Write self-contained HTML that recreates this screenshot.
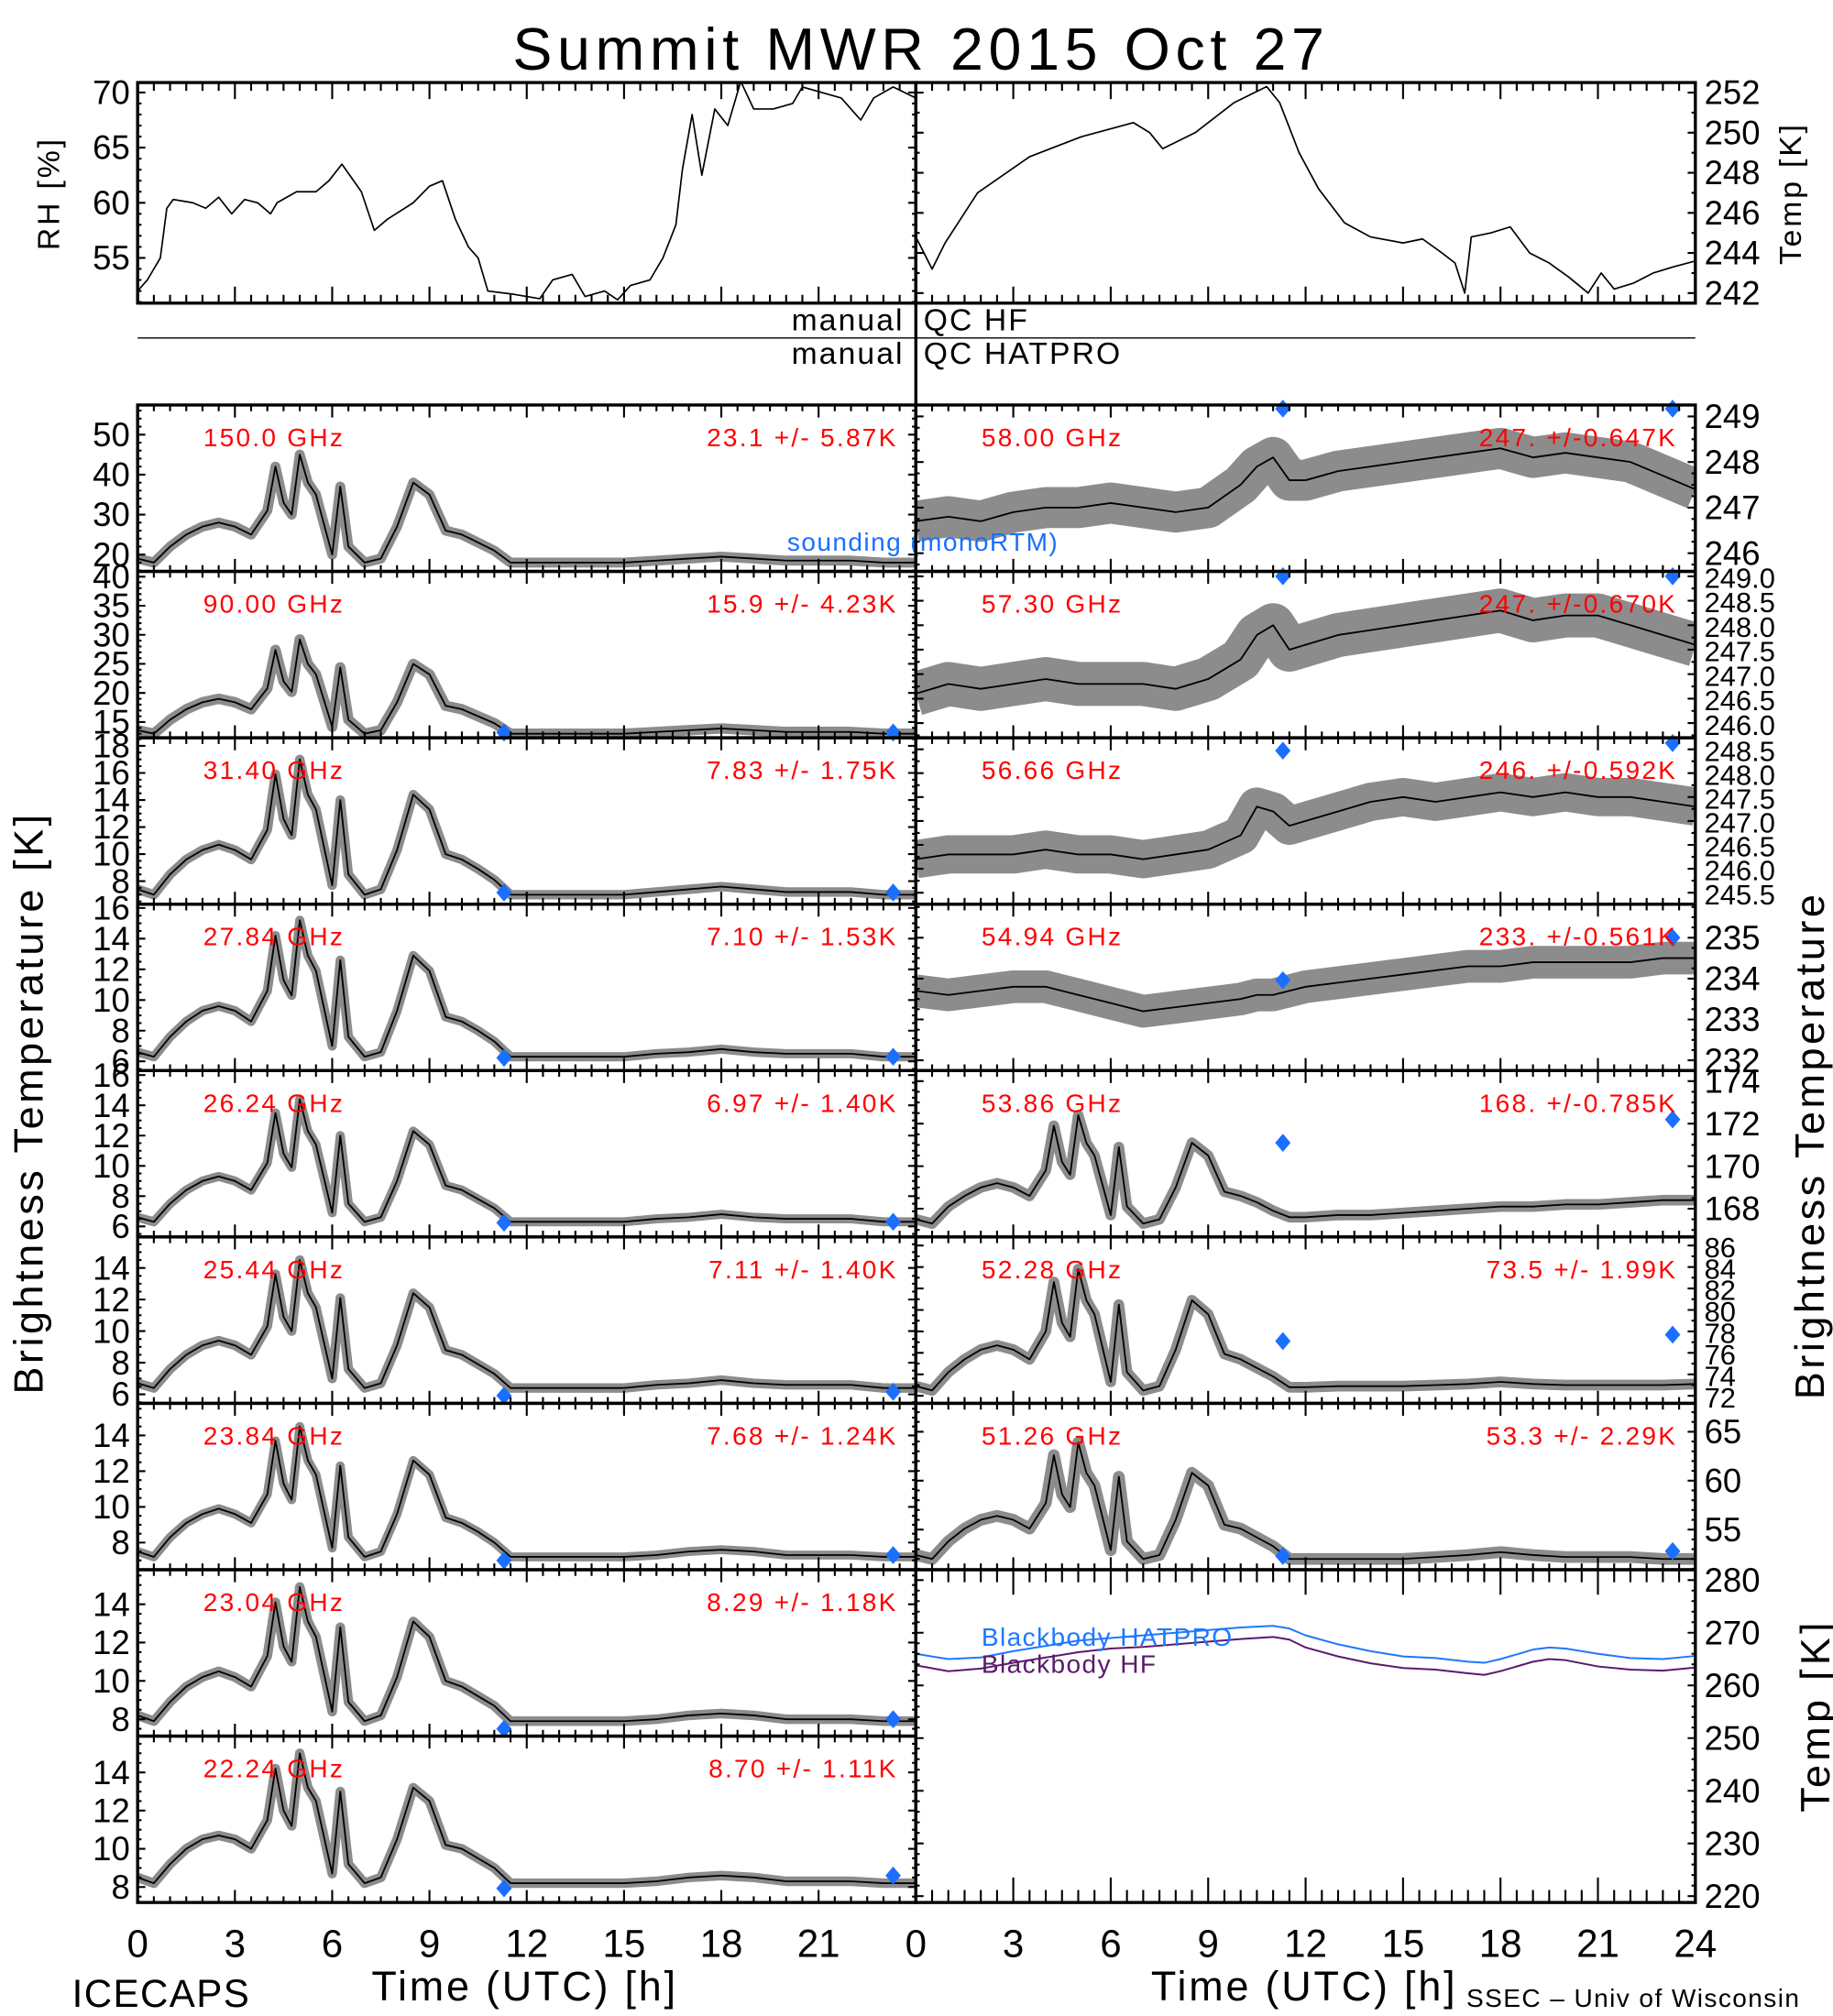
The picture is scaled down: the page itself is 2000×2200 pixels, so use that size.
<!DOCTYPE html>
<html><head><meta charset="utf-8"><title>Summit MWR 2015 Oct 27</title>
<style>
html,body{margin:0;padding:0;background:#fff;}
svg{display:block;font-family:"Liberation Sans",sans-serif;}
</style></head>
<body>
<svg id="chart" xmlns="http://www.w3.org/2000/svg" width="2000" height="2200" viewBox="0 0 1425 1563" preserveAspectRatio="none"></svg>
<script>
// ---------------- DATA ----------------
const T_WV = [0,0.5,1,1.5,2,2.5,3,3.5,4,4.25,4.5,4.75,5,5.25,5.5,6,6.25,6.5,7,7.5,8,8.5,9,9.5,10,10.5,11,11.5,12,13,14,15,16,17,18,19,20,21,22,23,24];
const TB_150 = [19,18,22,25,27,28,27,25,31,42,33,30,45,38,35,20,37,22,18,19,27,38,35,26,25,23,21,18,18,18,18,18,18.5,19,19.5,19,18.5,18.5,18.5,18,18];
const TB_90 = [13.6,13,15.4,17.2,18.4,19,18.4,17.2,20.8,27.4,22,20.2,29.2,25,23.2,14.2,24.4,15.4,13,13.6,18.4,25,23.2,17.8,17.2,16,14.8,13,13,13,13,13,13.3,13.6,13.9,13.6,13.3,13.3,13.3,13,13];
const TB_3140 = [7.4,7,8.5,9.6,10.3,10.7,10.3,9.6,11.8,15.9,12.6,11.4,17,14.4,13.3,7.7,14,8.5,7,7.4,10.3,14.4,13.3,10,9.6,8.9,8.1,7,7,7,7,7,7.2,7.4,7.6,7.4,7.2,7.2,7.2,7,7];
const TB_2784 = [6.6,6.3,7.6,8.6,9.3,9.6,9.3,8.6,10.6,14.2,11.3,10.3,15.2,12.9,11.9,7,12.6,7.6,6.3,6.6,9.3,12.9,11.9,8.9,8.6,8,7.3,6.3,6.3,6.3,6.3,6.3,6.5,6.6,6.8,6.6,6.5,6.5,6.5,6.3,6.3];
const TB_2624 = [6.6,6.3,7.5,8.4,9,9.3,9,8.4,10.2,13.5,10.8,9.9,14.4,12.3,11.4,6.9,12,7.5,6.3,6.6,9,12.3,11.4,8.7,8.4,7.8,7.2,6.3,6.3,6.3,6.3,6.3,6.5,6.6,6.8,6.6,6.5,6.5,6.5,6.3,6.3];
const TB_2544 = [6.7,6.4,7.6,8.5,9.1,9.4,9.1,8.5,10.3,13.6,10.9,10,14.5,12.4,11.5,7,12.1,7.6,6.4,6.7,9.1,12.4,11.5,8.8,8.5,7.9,7.3,6.4,6.4,6.4,6.4,6.4,6.6,6.7,6.9,6.7,6.6,6.6,6.6,6.4,6.4];
const TB_2384 = [7.5,7.2,8.3,9.1,9.6,9.9,9.6,9.1,10.7,13.7,11.3,10.4,14.5,12.6,11.8,7.7,12.3,8.3,7.2,7.5,9.6,12.6,11.8,9.4,9.1,8.6,8,7.2,7.2,7.2,7.2,7.2,7.3,7.5,7.6,7.5,7.3,7.3,7.3,7.2,7.2];
const TB_2304 = [8.2,7.9,8.9,9.7,10.2,10.5,10.2,9.7,11.3,14.1,11.8,11,14.9,13.1,12.3,8.4,12.8,8.9,7.9,8.2,10.2,13.1,12.3,10,9.7,9.2,8.7,7.9,7.9,7.9,7.9,7.9,8,8.2,8.3,8.2,8,8,8,7.9,7.9];
const TB_2224 = [8.5,8.2,9.2,10,10.5,10.7,10.5,10,11.5,14.2,12,11.2,15,13.2,12.5,8.7,13,9.2,8.2,8.5,10.5,13.2,12.5,10.2,10,9.5,9,8.2,8.2,8.2,8.2,8.2,8.3,8.5,8.6,8.5,8.3,8.3,8.3,8.2,8.2];
const TB_5386 = [167.5,167.3,168.1,168.6,169,169.2,169,168.6,169.8,171.9,170.2,169.6,172.4,171.1,170.5,167.7,170.9,168.1,167.3,167.5,169,171.1,170.5,168.8,168.6,168.3,167.9,167.6,167.6,167.7,167.7,167.8,167.9,168,168.1,168.1,168.2,168.2,168.3,168.4,168.4];
const TB_5228 = [72.9,72.5,74.2,75.4,76.3,76.7,76.3,75.4,78,82.6,78.8,77.5,83.8,80.9,79.6,73.3,80.5,74.2,72.5,72.9,76.3,80.9,79.6,75.9,75.4,74.6,73.8,72.8,72.8,72.9,72.9,72.9,73,73.1,73.3,73.1,73,73,73,73,73.1];
const TB_5126 = [52.4,52,53.8,55.1,56,56.4,56,55.1,57.7,62.6,58.6,57.3,63.9,60.8,59.5,52.9,60.4,53.8,52,52.4,56,60.8,59.5,55.5,55.1,54.2,53.3,52,52,52,52,52,52.2,52.4,52.7,52.4,52.2,52.2,52.2,52,52];

const T_O2 = [0,1,2,3,4,5,6,7,8,9,10,10.5,11,11.5,12,13,14,15,16,17,18,19,20,21,22,23,24];
const TB_5800 = [246.7,246.8,246.7,246.9,247,247,247.1,247,246.9,247,247.5,247.9,248.1,247.6,247.6,247.8,247.9,248,248.1,248.2,248.3,248.1,248.2,248.1,248,247.7,247.4];
const TB_5730 = [246.6,246.8,246.7,246.8,246.9,246.8,246.8,246.8,246.7,246.9,247.3,247.8,248,247.5,247.6,247.8,247.9,248,248.1,248.2,248.3,248.1,248.2,248.2,248,247.8,247.6];
const TB_5666 = [246.2,246.3,246.3,246.3,246.4,246.3,246.3,246.2,246.3,246.4,246.7,247.3,247.2,246.9,247,247.2,247.4,247.5,247.4,247.5,247.6,247.5,247.6,247.5,247.5,247.4,247.3];
const TB_5494 = [233.7,233.6,233.7,233.8,233.8,233.6,233.4,233.2,233.3,233.4,233.5,233.6,233.6,233.7,233.8,233.9,234,234.1,234.2,234.3,234.3,234.4,234.4,234.4,234.4,234.5,234.5];

const SND_T = [11.3,23.3];
const SND_90 = [13.2,13.2];
const SND_3140 = [7.16,7.16];
const SND_2784 = [6.23,6.3];
const SND_2624 = [6.24,6.3];
const SND_2544 = [5.92,6.16];
const SND_2384 = [7.0,7.3];
const SND_2304 = [7.5,8.0];
const SND_2224 = [7.93,8.6];
const SND_5800 = [249.17,249.17];
const SND_5730 = [249.0,249.0];
const SND_5666 = [248.47,248.63];
const SND_5494 = [233.96,235.0];
const SND_5386 = [171.1,172.2];
const SND_5228 = [77.1,77.7];
const SND_5126 = [52.3,52.8];

const RH_T = [0,0.3,0.7,0.9,1.1,1.7,2.1,2.5,2.9,3.3,3.7,4.1,4.3,4.9,5.5,5.9,6.3,6.9,7.3,7.7,8.5,9.0,9.4,9.8,10.2,10.5,10.8,11.6,12.4,12.8,13.4,13.8,14.4,14.8,15.2,15.8,16.2,16.6,16.8,17.1,17.4,17.8,18.2,18.6,19,19.6,20.2,20.5,21.1,21.7,22.3,22.7,23.3,24];
const RH_V = [52,53,55,59.5,60.3,60,59.5,60.5,59,60.3,60,59,60,61,61,62,63.5,61,57.5,58.5,60,61.5,62,58.5,56,55,52,51.7,51.3,53,53.5,51.5,52,51.2,52.5,53,55,58,63,68,62.5,68.5,67,71,68.5,68.5,69,70.5,70,69.5,67.5,69.5,70.5,69.5];
const TEMP_T = [0,0.5,0.9,1.9,3.5,5.1,6.7,7.2,7.6,8.6,9.8,10.8,11.2,11.8,12.4,13.2,14.0,15,15.6,16.2,16.6,16.9,17.1,17.7,18.3,18.9,19.5,20.1,20.7,21.1,21.5,22.1,22.7,23.3,24];
const TEMP_V = [244.8,243.2,244.5,247,248.8,249.8,250.5,250,249.2,250,251.5,252.3,251.5,249,247.2,245.5,244.8,244.5,244.7,244,243.5,242,244.8,245,245.3,244,243.5,242.8,242,243,242.2,242.5,243,243.3,243.6];

const BB_T = [0,1,2,3,4,5,6,7,8,9,10,11,11.5,12,13,14,15,16,17,17.5,18,19,19.5,20,21,22,23,24];
const BB_HATPRO = [266,265,265.3,266.5,267.5,268.5,269,269.5,270,270.5,271,271.3,270.8,269.5,267.8,266.5,265.5,265.2,264.5,264.3,265,266.8,267.2,267,266,265.2,265,265.6];
const BB_HF = [263.8,262.7,263.2,264.3,265.3,266.3,267,267.3,267.8,268.3,268.8,269.2,268.7,267.2,265.5,264.2,263.3,263,262.3,262,262.7,264.5,265,264.8,263.6,263,262.8,263.4];

const X_TICKS = [0,3,6,9,12,15,18,21,24];

// ---------------- HELPERS ----------------
const NS='http://www.w3.org/2000/svg';
const svg=document.getElementById('chart');
function el(tag,attrs,parent){const e=document.createElementNS(NS,tag);for(const k in attrs)e.setAttribute(k,attrs[k]);(parent||svg).appendChild(e);return e;}
function txt(parent,x,y,s,size,anchor,color,name,rot,ls){
  const e=el('text',{x:x,y:y,'font-size':size,'text-anchor':anchor,fill:color},parent);
  if(rot)e.setAttribute('transform','rotate('+rot+' '+x+' '+y+')');
  if(ls)e.setAttribute('letter-spacing',ls);
  e.textContent=s;
  
  
  return e;
}
let clipId=0;

function drawPanel(p){
  const g=el('g',{});
  
  
  const xs=t=>p.x+t/24*p.w;
  const ys=v=>p.y+p.h-(v-p.ymin)/(p.ymax-p.ymin)*p.h;
  const pxK=p.h/(p.ymax-p.ymin);
  const cid='c'+(clipId++);
  const cp=el('clipPath',{id:cid},g);
  el('rect',{x:p.x,y:p.y,width:p.w,height:p.h},cp);
  const dg=el('g',{'clip-path':'url(#'+cid+')'},g);
  (p.series||[]).forEach(s=>{
    const pts=s.t.map((t,i)=>xs(t).toFixed(2)+','+ys(s.v[i]).toFixed(2)).join(' ');
    if(s.noise){
      const h=el('polyline',{points:pts,fill:'none',stroke:'#000','stroke-opacity':0.45,'stroke-width':Math.max(2,s.noise*pxK),'stroke-linejoin':'round'},dg);
      
      
    }
    const l=el('polyline',{points:pts,fill:'none',stroke:s.color||'#000','stroke-width':s.width||1.3,'stroke-linejoin':'round'},dg);
    
    
  });
  if(p.snd){
    p.snd.forEach((v,i)=>{
      const cx=xs(SND_T[i]),cy=ys(v);
      const d=el('polygon',{points:`${cx},${cy-7} ${cx+6},${cy} ${cx},${cy+7} ${cx-6},${cy}`,fill:'#1a6fff'},g);
      
      
    });
  }
  const fr=el('rect',{x:p.x,y:p.y,width:p.w,height:p.h,fill:'none',stroke:'#000','stroke-width':2.4},g);
  
  
  const big=p.h*0.075, small=big*0.5;
  let d='';
  for(let t=0;t<=24.001;t+=0.5){
    const x=xs(t), L=(Math.abs(t/3-Math.round(t/3))<1e-6)?big:small;
    d+=`M${x},${p.y+p.h}v${-L}M${x},${p.y}v${L}`;
  }
  const yl=6, ysm=3;
  p.ticks.forEach(v=>{const y=ys(v);if(y>=p.y-0.5&&y<=p.y+p.h+0.5)d+=`M${p.x},${y}h${yl}M${p.x+p.w},${y}h${-yl}`;});
  if(p.minor){
    for(let v=Math.ceil(p.ymin/p.minor)*p.minor;v<=p.ymax;v+=p.minor){const y=ys(v);d+=`M${p.x},${y}h${ysm}M${p.x+p.w},${y}h${-ysm}`;}
  }
  const tk=el('path',{d:d,stroke:'#000','stroke-width':1.5,fill:'none'},g);
  
  
  p.ticks.forEach((v,i)=>{
    const y=ys(v)+9;
    const s=p.fmt?p.fmt(v):String(v);
    if(p.side==='left')txt(g,p.x-6,y,s,p.fs||26,'end','#000','y-tick-label');
    else txt(g,p.x+p.w+7,y,s,p.fs||26,'start','#000','y-tick-label');
  });
  if(p.label)txt(g,p.x+p.lx,p.y+32,p.label,20,'start','#ff0000','channel-label',null,1.6);
  if(p.stats)txt(g,p.x+p.w-14,p.y+32,p.stats,20,'end','#ff0000','channel-stats',null,1.6);
  return {g,xs,ys};
}

// ---------------- LAYOUT ----------------
const LX=107, RX=712, PW=605, PH=129, Y0=314;

txt(svg,716,54,'Summit  MWR  2015  Oct  27',46,'middle','#000','chart-title',null,4);

drawPanel({name:'rh-panel',x:LX,y:64,w:PW,h:171,ymin:50.9,ymax:70.9,ticks:[55,60,65,70],minor:1,side:'left',
  series:[{name:'rh-line',t:RH_T,v:RH_V,width:1.2}]});
drawPanel({name:'surface-temp-panel',x:RX,y:64,w:606,h:171,ymin:241.5,ymax:252.5,ticks:[242,244,246,248,250,252],minor:1,side:'right',
  series:[{name:'temp-line',t:TEMP_T,v:TEMP_V,width:1.2}]});
txt(svg,46,150,'RH [%]',24,'middle','#000','rh-axis-title',-90,2);
txt(svg,1400,150,'Temp [K]',24,'middle','#000','temp-axis-title',-90,2);

txt(svg,703,256,'manual',24,'end','#000','qc-hf-manual',null,1.5);
txt(svg,718,256,'QC  HF',24,'start','#000','qc-hf-label',null,1.5);
txt(svg,703,282,'manual',24,'end','#000','qc-hatpro-manual',null,1.5);
txt(svg,718,282,'QC  HATPRO',24,'start','#000','qc-hatpro-label',null,1.5);
const ql=el('line',{x1:107,y1:262,x2:1318,y2:262,stroke:'#000','stroke-width':1});



const LEFT=[
 {name:'panel-150ghz',label:'150.0 GHz',stats:'23.1 +/-  5.87K',ymin:15.8,ymax:57.4,ticks:[20,30,40,50],minor:2,data:TB_150,noise:2.5,snd:null},
 {name:'panel-90ghz',label:'90.00 GHz',stats:'15.9 +/-  4.23K',ymin:12.3,ymax:40.9,ticks:[15,20,25,30,35,40],minor:1,data:TB_90,noise:1.8,snd:SND_90},
 {name:'panel-31ghz',label:'31.40 GHz',stats:'7.83 +/- 1.75K',ymin:6.3,ymax:18.6,ticks:[8,10,12,14,16,18],minor:0.5,data:TB_3140,noise:0.7,snd:SND_3140},
 {name:'panel-27ghz',label:'27.84 GHz',stats:'7.10 +/- 1.53K',ymin:5.4,ymax:16.25,ticks:[6,8,10,12,14,16],minor:0.5,data:TB_2784,noise:0.6,snd:SND_2784},
 {name:'panel-26ghz',label:'26.24 GHz',stats:'6.97 +/- 1.40K',ymin:5.3,ymax:16.3,ticks:[6,8,10,12,14,16],minor:0.5,data:TB_2624,noise:0.6,snd:SND_2624},
 {name:'panel-25ghz',label:'25.44 GHz',stats:'7.11 +/- 1.40K',ymin:5.43,ymax:15.96,ticks:[6,8,10,12,14],minor:0.5,data:TB_2544,noise:0.6,snd:SND_2544},
 {name:'panel-23-84ghz',label:'23.84 GHz',stats:'7.68 +/- 1.24K',ymin:6.48,ymax:15.8,ticks:[8,10,12,14],minor:0.5,data:TB_2384,noise:0.5,snd:SND_2384},
 {name:'panel-23-04ghz',label:'23.04 GHz',stats:'8.29 +/- 1.18K',ymin:7.12,ymax:15.8,ticks:[8,10,12,14],minor:0.5,data:TB_2304,noise:0.5,snd:SND_2304},
 {name:'panel-22ghz',label:'22.24 GHz',stats:'8.70 +/- 1.11K',ymin:7.19,ymax:15.9,ticks:[8,10,12,14],minor:0.5,data:TB_2224,noise:0.5,snd:SND_2224}
];
LEFT.forEach((c,i)=>{
  drawPanel({name:c.name,x:LX,y:Y0+i*PH,w:PW,h:PH,ymin:c.ymin,ymax:c.ymax,ticks:c.ticks,minor:c.minor,side:'left',
    label:c.label,lx:51,stats:c.stats,snd:c.snd,
    series:[{name:c.name+'-tb-line',t:T_WV,v:c.data,noise:c.noise,width:1.3}]});
});

const f1=v=>v.toFixed(1);
const RIGHT=[
 {name:'panel-58ghz',label:'58.00 GHz',stats:'247. +/-0.647K',ymin:245.6,ymax:249.25,ticks:[246,247,248,249],minor:0.25,t:T_O2,data:TB_5800,noise:0.9,snd:SND_5800},
 {name:'panel-57-30ghz',label:'57.30 GHz',stats:'247. +/-0.670K',ymin:245.7,ymax:249.1,ticks:[246,246.5,247,247.5,248,248.5,249],minor:0.25,t:T_O2,data:TB_5730,noise:0.9,snd:SND_5730,fmt:f1,fs:22},
 {name:'panel-56-66ghz',label:'56.66 GHz',stats:'246. +/-0.592K',ymin:245.26,ymax:248.74,ticks:[245.5,246,246.5,247,247.5,248,248.5],minor:0.25,t:T_O2,data:TB_5666,noise:0.8,snd:SND_5666,fmt:f1,fs:22},
 {name:'panel-54-94ghz',label:'54.94 GHz',stats:'233. +/-0.561K',ymin:231.75,ymax:235.82,ticks:[232,233,234,235],minor:0.25,t:T_O2,data:TB_5494,noise:0.8,snd:SND_5494},
 {name:'panel-53-86ghz',label:'53.86 GHz',stats:'168. +/-0.785K',ymin:166.67,ymax:174.5,ticks:[168,170,172,174],minor:0.5,t:T_WV,data:TB_5386,noise:0.5,snd:SND_5386},
 {name:'panel-52-28ghz',label:'52.28 GHz',stats:'73.5 +/- 1.99K',ymin:71.3,ymax:86.8,ticks:[72,74,76,78,80,82,84,86],minor:1,t:T_WV,data:TB_5228,noise:1.0,snd:SND_5228,fs:22},
 {name:'panel-51-26ghz',label:'51.26 GHz',stats:'53.3 +/- 2.29K',ymin:50.9,ymax:67.9,ticks:[55,60,65],minor:1,t:T_WV,data:TB_5126,noise:1.2,snd:SND_5126}
];
RIGHT.forEach((c,i)=>{
  drawPanel({name:c.name,x:RX,y:Y0+i*PH,w:606,h:PH,ymin:c.ymin,ymax:c.ymax,ticks:c.ticks,minor:c.minor,side:'right',
    label:c.label,lx:51,stats:c.stats,snd:c.snd,fmt:c.fmt,fs:c.fs,
    series:[{name:c.name+'-tb-line',t:c.t,v:c.data,noise:c.noise,width:1.3}]});
});

drawPanel({name:'blackbody-panel',x:RX,y:Y0+7*PH,w:606,h:2*PH,ymin:218.8,ymax:281.96,ticks:[220,230,240,250,260,270,280],minor:2,side:'right',
  series:[{name:'blackbody-hatpro-line',t:BB_T,v:BB_HATPRO,color:'#1e78ff',width:1.4},
          {name:'blackbody-hf-line',t:BB_T,v:BB_HF,color:'#5b1a6b',width:1.4}]});
txt(svg,763,1276,'Blackbody  HATPRO',20,'start','#1e78ff','legend-blackbody-hatpro',null,1);
txt(svg,763,1297,'Blackbody  HF',20,'start','#5b1a6b','legend-blackbody-hf',null,1);
txt(svg,1422,1330,'Temp  [K]',32,'middle','#000','bb-temp-axis-title',-90,3);

txt(svg,612,427,'sounding (monoRTM)',20,'start','#1a6fff','sounding-label',null,1);

const cl=el('line',{x1:712,y1:64,x2:712,y2:1475,stroke:'#000','stroke-width':2.4});



txt(svg,33,855,'Brightness  Temperature  [K]',32,'middle','#000','left-y-axis-title',-90,2.5);
txt(svg,1418,888,'Brightness  Temperature',32,'middle','#000','right-y-axis-title',-90,2.5);

X_TICKS.forEach(t=>{
  if(t<24)txt(svg,LX+t/24*PW,1517,String(t),30,'middle','#000','x-tick-label-left');
  txt(svg,RX+t/24*606,1517,String(t),30,'middle','#000','x-tick-label-right');
});
txt(svg,408,1551,'Time  (UTC)  [h]',32,'middle','#000','left-x-axis-title',null,2);
txt(svg,1014,1551,'Time  (UTC)  [h]',32,'middle','#000','right-x-axis-title',null,2);
txt(svg,56,1556,'ICECAPS',30,'start','#000','icecaps-credit',null,1);
txt(svg,1140,1556,'SSEC  –  Univ  of  Wisconsin',20,'start','#000','ssec-credit',null,1);
</script>
</body></html>
